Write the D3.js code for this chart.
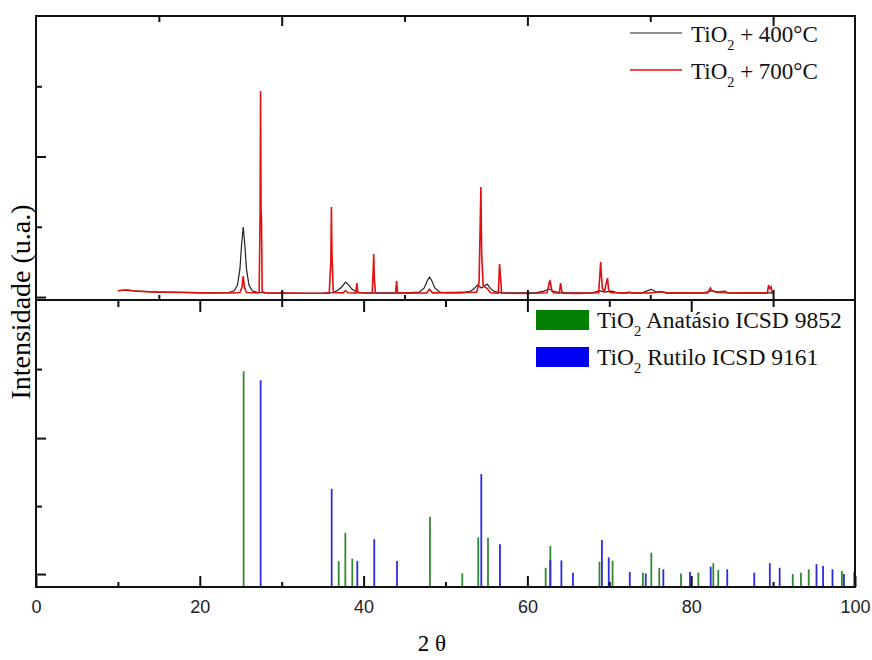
<!DOCTYPE html>
<html>
<head>
<meta charset="utf-8">
<script src="https://cdn.jsdelivr.net/npm/d3@7"></script>
<style>
body { margin: 0; background: #fff; }
</style>
</head>
<body>
<script>
// measured patterns, [2theta, counts]
const t400 = [[10,45],[10.5,47],[11,50],[11.5,47],[12,44],[13,41],[14,38],[15,36],[16,35],[18,33],[20,31],[22,30],[23.5,32],
  [24.2,45],[24.6,85],[24.9,200],[25.1,370],[25.3,498],[25.5,370],[25.7,200],[26.0,85],[26.4,45],[27,34],[28,30],[30,28],
  [33,27],[35,28],[36.3,32],[36.9,50],[37.3,70],[37.8,107],[38.2,85],[38.6,55],[39.2,35],[40,30],[45,29],[46.8,35],
  [47.4,65],[47.8,120],[48.05,142],[48.3,120],[48.7,65],[49.3,35],[50,30],[52,30],[53,40],[53.5,60],[53.9,85],[54.4,65],
  [54.8,80],[55.1,92],[55.5,60],[56,38],[57,30],[61,30],[62,42],[62.7,57],[63.3,38],[64,31],[68,30],[68.8,45],[69.4,35],
  [70.3,42],[71,30],[74,30],[75.1,55],[75.8,36],[76.2,40],[77,30],[81.5,30],[82.6,45],[83.4,31],[90,30]];

const t700 = [[10,45],[10.5,48],[11,50],[11.5,47],[12,43],[13,40],[14,37],[15,35],[16,34],[18,32],[20,30],[22,29],[24,29],
  [24.9,32],[25.15,70],[25.3,150],[25.45,70],[25.7,32],[27.0,30],[27.25,32],[27.36,600],[27.42,1466],[27.48,620],[27.53,560],
  [27.62,40],[28,30],[30,28],[33,27],[35.8,28],[36.0,250],[36.07,640],[36.14,300],[36.3,32],[37.5,30],[37.8,45],[38.1,30],
  [39.05,28],[39.18,100],[39.3,30],[41.05,28],[41.18,200],[41.24,306],[41.32,120],[41.45,28],[43.9,27],[44.03,114],[44.15,28],
  [47.7,30],[48.05,55],[48.4,30],[53.8,35],[54.1,100],[54.25,560],[54.32,783],[54.42,300],[54.6,80],[55.1,60],[55.5,30],
  [56.45,28],[56.6,235],[56.75,120],[56.85,28],[60,25],[62.4,30],[62.75,121],[63.0,40],[63.2,30],[63.9,28],[64.05,100],
  [64.15,60],[64.25,28],[66,26],[68.7,30],[68.95,250],[69.05,140],[69.15,60],[69.4,40],[69.78,135],[69.9,60],[70.1,32],
  [72,28],[72.4,36],[72.8,28],[75,30],[76.5,38],[77,28],[80,28],[82.0,30],[82.35,64],[82.5,45],[83,35],[84.2,40],[84.4,30],
  [86,28],[89.3,28],[89.45,85],[89.6,60],[89.75,72],[89.9,30],[90,30]];

// reference cards, [2theta, relative intensity]
const anatase = [[25.35,100],[36.96,12.0],[37.77,25.1],[38.62,13.1],[48.1,32.5],[52.05,6.3],[54.0,23.0],[55.19,22.7],
  [62.23,8.9],[62.8,19.0],[68.8,11.7],[70.4,12.2],[74.1,6.6],[75.13,15.9],[76.1,8.9],[78.75,6.3],[80.87,6.6],[82.7,11.0],
  [83.3,7.9],[92.4,6.0],[93.4,6.6],[94.35,8.2],[98.4,7.5],[99.9,6.9]];
const rutile = [[27.43,95.8],[36.1,45.5],[39.23,12.0],[41.3,22.1],[44.08,12.0],[54.37,52.3],[56.65,19.8],[62.8,12.5],
  [64.15,12.3],[65.56,6.6],[69.1,21.8],[69.93,13.7],[72.5,6.9],[74.45,6.3],[76.6,8.2],[79.85,7.1],[82.38,9.4],[84.4,8.2],
  [87.7,6.6],[89.6,11.0],[90.8,8.9],[95.3,10.6],[96.1,9.7],[97.25,8.2],[98.65,6.0]];

const xLabels = [0, 20, 40, 60, 80, 100];
const xMinor = [10, 30, 50, 70, 90];
const topMajorX = [30, 60, 90];
const topMinorX = [15, 45, 75];
const topMajorY = [0, 1000];
const topMinorY = [500, 1500];
const botMajorY = [6, 69];
const botMinorY = [37.5, 101];

const seriesTop = ['TiO|2| + 400°C', 'TiO|2| + 700°C'];
const seriesBot = ['TiO|2| Anatásio ICSD 9852', 'TiO|2| Rutilo ICSD 9161'];

const W = 872, H = 660;
const L = 36, R = 855, T = 16, M = 300, B = 587;
const SERIF = '"Liberation Serif", "Times New Roman", serif';
const SANS = '"Liberation Sans", Arial, sans-serif';

let svg = d3.select('body').append('svg')
    .attr('width', W)
    .attr('height', H);

let x = d3.scaleLinear().domain([0, 100]).range([L, R]);
let yTop = d3.scaleLinear().domain([-21, 2000]).range([M, T]);
let yBot = d3.scaleLinear().domain([0, 133]).range([B, M]);

function AddTicks(axis, scale, vals, len, tx, ty) {
    let g = svg.append('g')
        .attr('transform', `translate(${tx},${ty})`)
        .call(axis(scale).tickValues(vals).tickSize(-len).tickFormat(''));
    g.select('.domain').remove();
    g.selectAll('line').attr('stroke', '#111').attr('stroke-width', 2);
    return g;
}

// --- top panel curves
let line = d3.line().x(d => x(d[0])).y(d => yTop(d[1]));
svg.append('path').datum(t400)
    .attr('d', line).attr('fill', 'none')
    .attr('stroke', '#222').attr('stroke-width', 1.2);
svg.append('path').datum(t700)
    .attr('d', line).attr('fill', 'none')
    .attr('stroke', '#e41010').attr('stroke-width', 1.6);

// --- bottom panel sticks
function AddSticks(data, color) {
    svg.append('g').selectAll('line').data(data).join('line')
        .attr('x1', d => x(d[0])).attr('x2', d => x(d[0]))
        .attr('y1', yBot(0)).attr('y2', d => yBot(d[1]))
        .attr('stroke', color).attr('stroke-width', 1.8);
}
AddSticks(anatase, '#2f8a2f');
AddSticks(rutile, '#2a2ae6');

// --- ticks
AddTicks(d3.axisTop, x, topMajorX, 10, 0, T);
AddTicks(d3.axisTop, x, topMinorX, 6, 0, T);
AddTicks(d3.axisBottom, x, topMajorX, 10, 0, M);
AddTicks(d3.axisBottom, x, topMinorX, 5, 0, M);
AddTicks(d3.axisTop, x, [20, 40, 60, 80], 12, 0, M);
AddTicks(d3.axisTop, x, xMinor, 7, 0, M);
AddTicks(d3.axisBottom, x, xLabels, 11, 0, B);
AddTicks(d3.axisBottom, x, xMinor, 5, 0, B);
AddTicks(d3.axisLeft, yTop, topMajorY, 10, L, 0);
AddTicks(d3.axisLeft, yTop, topMinorY, 6, L, 0);
AddTicks(d3.axisLeft, yBot, botMajorY, 10, L, 0);
AddTicks(d3.axisLeft, yBot, botMinorY, 6, L, 0);

// frame
svg.append('rect')
    .attr('x', L).attr('y', T).attr('width', R - L).attr('height', B - T)
    .attr('fill', 'none').attr('stroke', '#111').attr('stroke-width', 2);
svg.append('line')
    .attr('x1', L).attr('x2', R).attr('y1', M).attr('y2', M)
    .attr('stroke', '#111').attr('stroke-width', 2);

// tick labels
let xl = svg.append('g')
    .attr('transform', `translate(0,${B})`)
    .call(d3.axisBottom(x).tickValues(xLabels).tickSize(0).tickPadding(13).tickFormat(d3.format('d')));
xl.select('.domain').remove();
xl.selectAll('text').attr('font-family', SANS).attr('font-size', 18).attr('fill', '#222');

// axis titles
svg.append('text')
    .attr('x', 432).attr('y', 651)
    .attr('text-anchor', 'middle')
    .attr('font-family', SERIF).attr('font-size', 23)
    .text('2 θ');
svg.append('text')
    .attr('transform', 'translate(30,302) rotate(-90)')
    .attr('text-anchor', 'middle')
    .attr('font-family', SERIF).attr('font-size', 28)
    .text('Intensidade (u.a.)');

// text with a subscript, parts split on |
function AddLabel(tx, ty, str, size) {
    let parts = str.split('|');
    let t = svg.append('text')
        .attr('x', tx).attr('y', ty)
        .attr('font-family', SERIF).attr('font-size', size).attr('fill', '#111');
    t.append('tspan').text(parts[0]);
    t.append('tspan').attr('font-size', size * 0.62).attr('dy', size * 0.34).text(parts[1]);
    t.append('tspan').attr('dy', -size * 0.34).text(parts[2]);
}

// legends
let topColors = ['#222', '#e41010'];
seriesTop.forEach((s, i) => {
    let yy = 33 + i * 37;
    svg.append('line')
        .attr('x1', 630).attr('x2', 682).attr('y1', yy).attr('y2', yy)
        .attr('stroke', topColors[i]).attr('stroke-width', i ? 1.6 : 1.2);
    AddLabel(691, yy + 9, s, 23);
});
let botColors = ['#007f00', '#0000f2'];
seriesBot.forEach((s, i) => {
    let yy = 310 + i * 37;
    svg.append('rect')
        .attr('x', 536).attr('y', yy).attr('width', 53).attr('height', 20)
        .attr('fill', botColors[i]);
    AddLabel(597, yy + 18, s, 23.5);
});
</script>
</body>
</html>
